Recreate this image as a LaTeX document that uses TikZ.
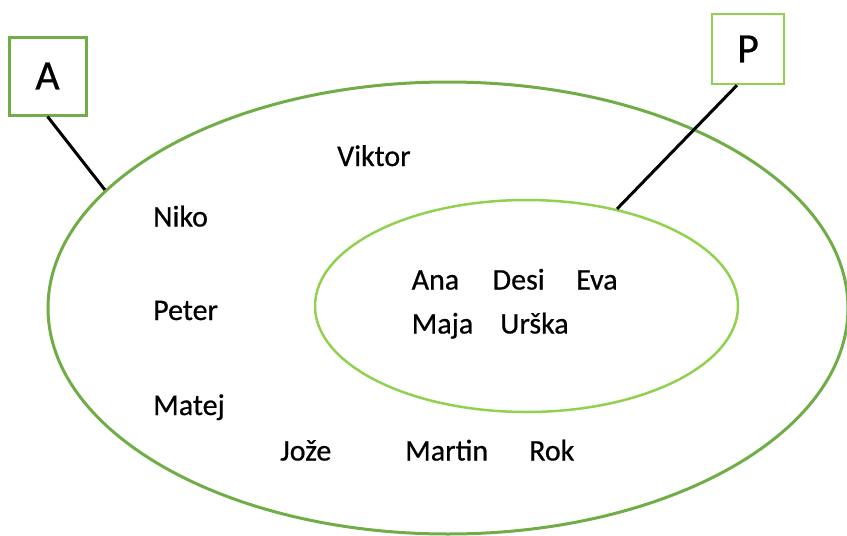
\documentclass[tikz,border=0pt]{standalone}
\usepackage{fontspec}
\setmainfont{Carlito}[FakeBold=0.6]
\usetikzlibrary{shapes.geometric}
\definecolor{darkg}{HTML}{70AD47}
\definecolor{lightg}{HTML}{92D050}
\tikzset{
  person/.style={anchor=base west, inner sep=0pt, font=\fontsize{30}{36}\selectfont},
  setbox/.style={draw, line width=3pt, inner sep=0pt, font=\fontsize{42}{50}\selectfont},
  leader/.style={draw=black, line width=3pt},
}
\begin{document}
\begin{tikzpicture}[x=1pt,y=-1pt]
\useasboundingbox (0,0) rectangle (847,536);
\node[ellipse, draw=darkg, line width=3pt, minimum width=800pt, minimum height=452pt, inner sep=0pt] (outer) at (448,308) {};
\node[ellipse, draw=lightg, line width=2.5pt, minimum width=423pt, minimum height=212pt, inner sep=0pt] (inner) at (526.5,306) {};
\node[setbox, draw=darkg, minimum width=77pt, minimum height=78pt] (A) at (47.5,76) {A};
\node[setbox, draw=lightg, line width=2.5pt, minimum width=72pt, minimum height=70pt] (P) at (748,49) {P};
\draw[leader] (A.south) -- (outer.161.4);
\draw[leader] ([xshift=-11pt]P.south) -- (inner.47);
\node[person] (viktor) at (337,166) {Viktor};
\node[person] (niko) at (153,226.5) {Niko};
\node[person] (peter) at (153,320) {Peter};
\node[person] (matej) at (153,415) {Matej};
\node[person] (ana) at (411.5,289.5) {Ana};
\node[person] (desi) at (492.5,289.5) {Desi};
\node[person] (eva) at (576,289.5) {Eva};
\node[person] (maja) at (411.5,333.5) {Maja};
\node[person] (urska) at (500,333.5) {Urška};
\node[person] (joze) at (280,460.5) {Jože};
\node[person] (martin) at (405,460.5) {Martin};
\node[person] (rok) at (529,460.5) {Rok};
\end{tikzpicture}
\end{document}
